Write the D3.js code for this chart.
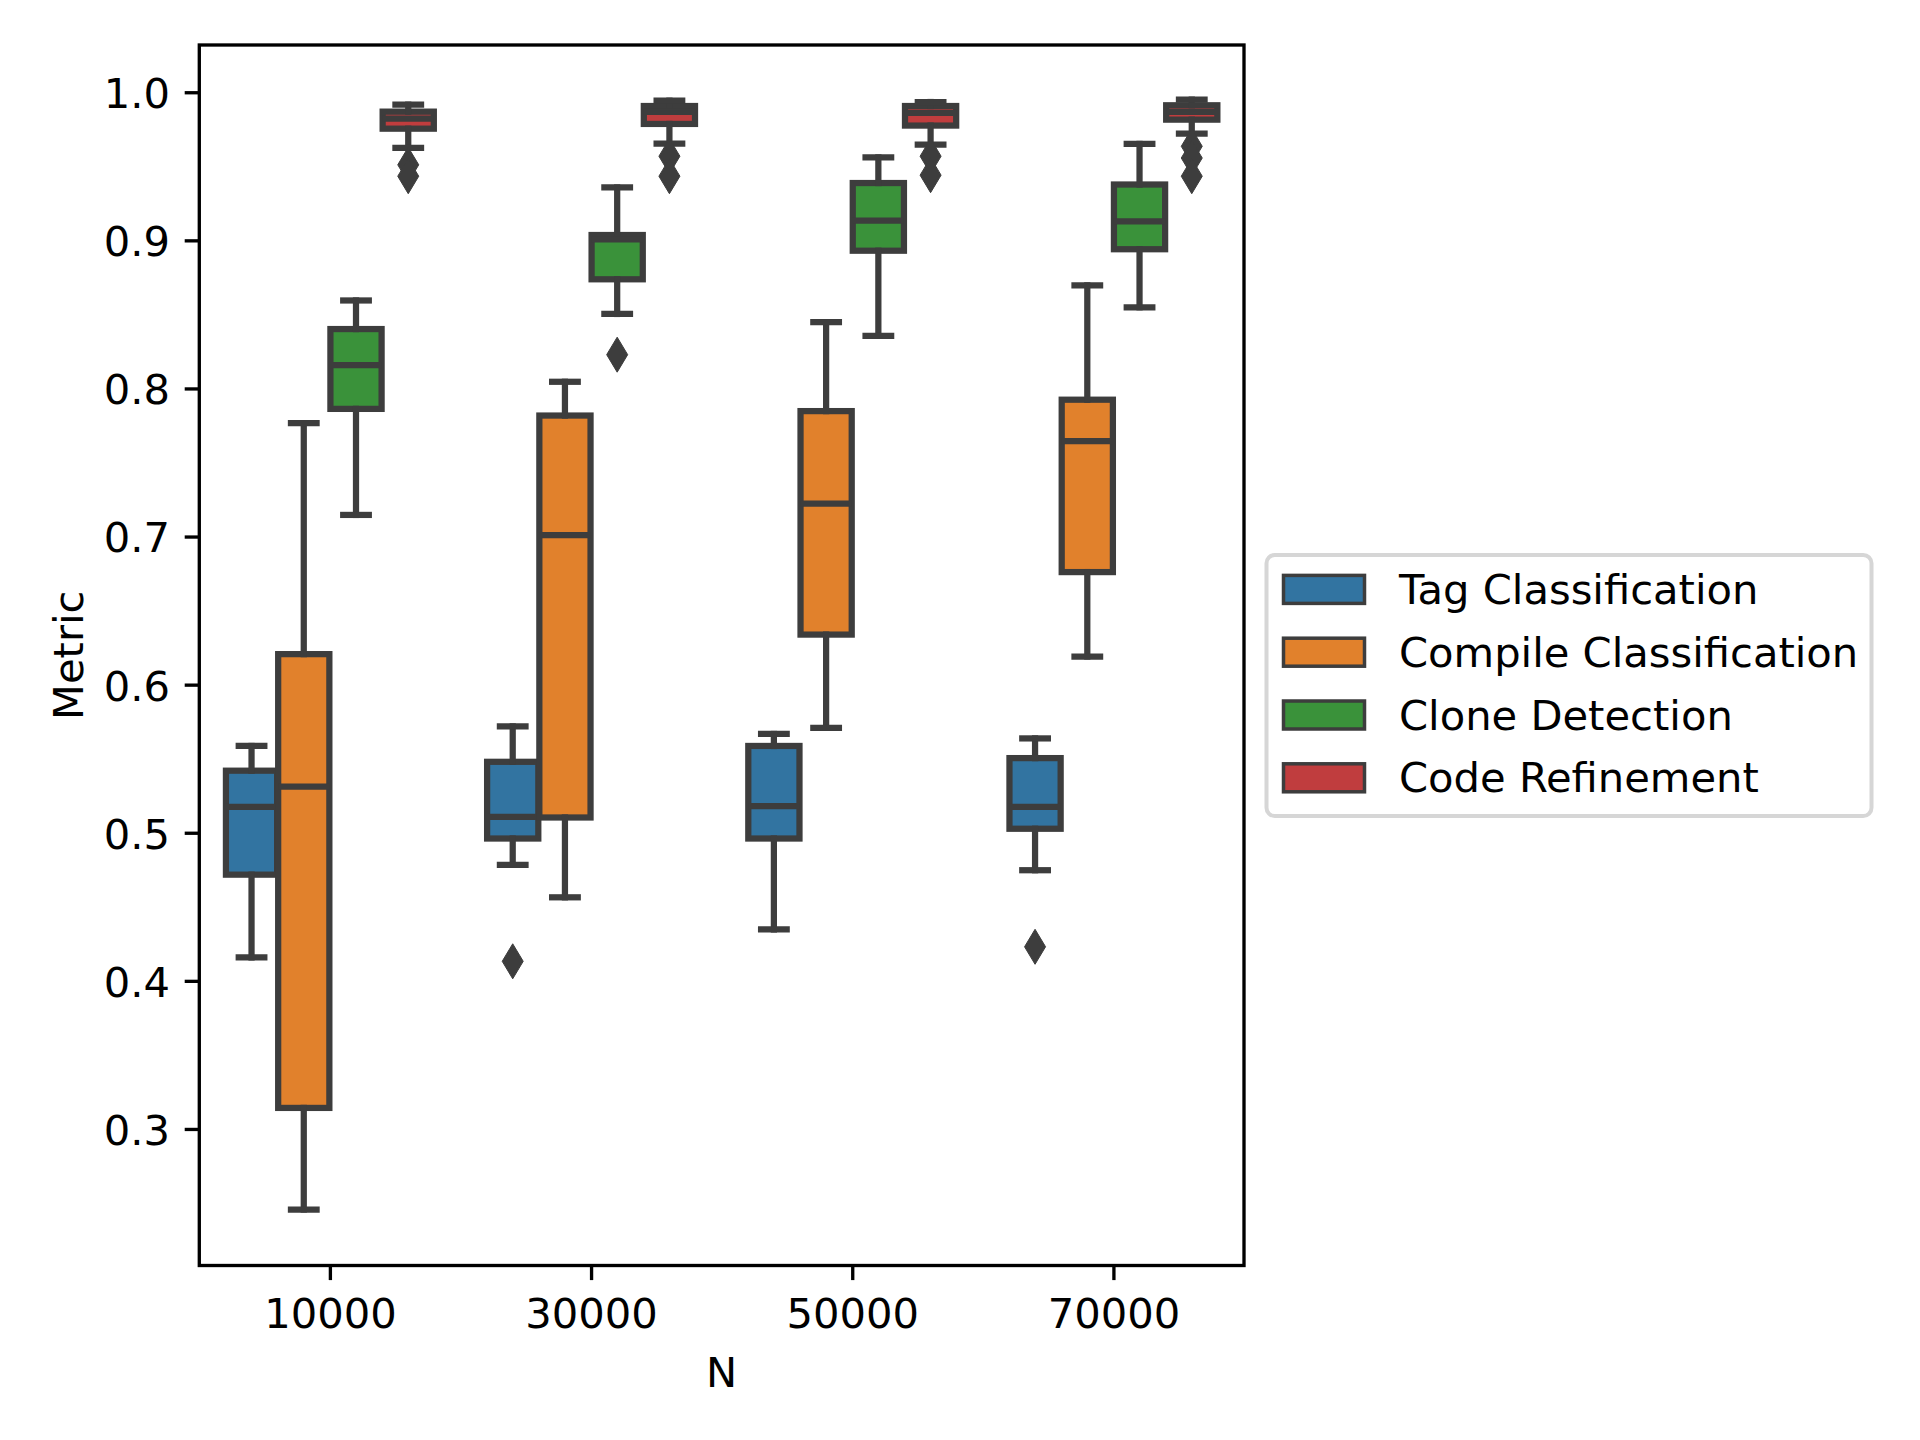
<!DOCTYPE html>
<html>
<head>
<meta charset="utf-8">
<script src="https://cdn.jsdelivr.net/npm/d3@7"></script>
<style>
  body { margin: 0; background: #fff; }
  svg { display: block; }
</style>
</head>
<body>
<svg id="chart" width="1920" height="1440"></svg>
<script>
const groups = ['10000', '30000', '50000', '70000']
const tasks = ['Tag Classification', 'Compile Classification', 'Clone Detection', 'Code Refinement']
const palette = ['#3274a1', '#e1812c', '#3a923a', '#c03d3e']
const yTicks = [0.3, 0.4, 0.5, 0.6, 0.7, 0.8, 0.9, 1.0]

// box stats, one row per task, one value per N group
const whiskerLow = [
  [0.4158, 0.4783, 0.4347, 0.4747],
  [0.2456, 0.4564, 0.5708, 0.6190],
  [0.7146, 0.8503, 0.8355, 0.8548],
  [0.9624, 0.9653, 0.9646, 0.9720]
]
const q1 = [
  [0.4717, 0.4961, 0.4961, 0.5027],
  [0.3142, 0.5103, 0.6338, 0.6760],
  [0.7862, 0.8737, 0.8930, 0.8940],
  [0.9754, 0.9786, 0.9775, 0.9815]
]
const median = [
  [0.5174, 0.5108, 0.5180, 0.5174],
  [0.5311, 0.7009, 0.7222, 0.7644],
  [0.8157, 0.9006, 0.9133, 0.9128],
  [0.9822, 0.9867, 0.9860, 0.9867]
]
const q3 = [
  [0.5419, 0.5479, 0.5586, 0.5504],
  [0.6206, 0.7817, 0.7847, 0.7924],
  [0.8401, 0.9036, 0.9387, 0.9377],
  [0.9869, 0.9907, 0.9907, 0.9912]
]
const whiskerHigh = [
  [0.5586, 0.5718, 0.5667, 0.5637],
  [0.7766, 0.8045, 0.8447, 0.8696],
  [0.8594, 0.9357, 0.9560, 0.9651],
  [0.9916, 0.9943, 0.9934, 0.9950]
]
// [task, group, value]
const fliers = [
  [0, 1, 0.4132], [0, 3, 0.4230],
  [2, 1, 0.8228],
  [3, 0, 0.9510], [3, 0, 0.9433],
  [3, 1, 0.9568], [3, 1, 0.9433],
  [3, 2, 0.9568], [3, 2, 0.9440],
  [3, 3, 0.9635], [3, 3, 0.9556], [3, 3, 0.9433]
]

const gray = '#3d3d3d'
const font = 'DejaVu Sans'
const fontSize = 41.67
const lw = 6.25
const axLeft = 199.3, axRight = 1244, axTop = 45, axBottom = 1265.5

let svg = d3.select('#chart')
svg.append('rect').attr('width', 1920).attr('height', 1440).attr('fill', '#fff')

let x = d3.scaleLinear().domain([-0.5, 3.5]).range([axLeft, axRight])
let y = d3.scaleLinear().domain([0.2078, 1.0319]).range([axBottom, axTop])

let nHue = tasks.length
let hueWidth = 0.8 / nHue
let boxWidth = hueWidth * 0.98
function center (task, group) {
  return group - 0.4 + hueWidth * (task + 0.5)
}

let boxes = []
tasks.forEach(function (t, ti) {
  groups.forEach(function (g, gi) {
    boxes.push({
      task: ti, group: gi,
      lo: whiskerLow[ti][gi], q1: q1[ti][gi], med: median[ti][gi],
      q3: q3[ti][gi], hi: whiskerHigh[ti][gi]
    })
  })
})
boxes.sort(function (a, b) { return a.group - b.group || a.task - b.task })

let plot = svg.append('g').attr('class', 'plot')

let svgBoxes = plot.selectAll('g.box')
  .data(boxes)
  .enter()
  .append('g')
    .attr('class', 'box')

svgBoxes.each(function (d) {
  let g = d3.select(this)
  let cx = x(center(d.task, d.group))
  let half = x(boxWidth / 2) - x(0)
  let capHalf = half / 2

  g.append('rect')
    .attr('x', cx - half)
    .attr('y', y(d.q3))
    .attr('width', half * 2)
    .attr('height', y(d.q1) - y(d.q3))
    .attr('fill', palette[d.task])
    .attr('stroke', gray)
    .attr('stroke-width', lw)

  let segs = [
    [cx, y(d.q1), cx, y(d.lo)],
    [cx, y(d.q3), cx, y(d.hi)],
    [cx - capHalf, y(d.lo), cx + capHalf, y(d.lo)],
    [cx - capHalf, y(d.hi), cx + capHalf, y(d.hi)],
    [cx - half, y(d.med), cx + half, y(d.med)]
  ]
  g.selectAll('line')
    .data(segs)
    .enter()
    .append('line')
      .attr('x1', function (s) { return s[0] })
      .attr('y1', function (s) { return s[1] })
      .attr('x2', function (s) { return s[2] })
      .attr('y2', function (s) { return s[3] })
      .attr('stroke', gray)
      .attr('stroke-width', lw)
      .attr('stroke-linecap', function (s, i) { return i === 4 ? 'butt' : 'square' })

  let pts = fliers.filter(function (f) { return f[0] === d.task && f[1] === d.group })
  g.selectAll('path.flier')
    .data(pts)
    .enter()
    .append('path')
      .attr('class', 'flier')
      .attr('d', function (f) {
        let fy = y(f[2])
        return 'M' + cx + ',' + (fy - 17.5) + 'L' + (cx + 10.5) + ',' + fy +
          'L' + cx + ',' + (fy + 17.5) + 'L' + (cx - 10.5) + ',' + fy + 'Z'
      })
      .attr('fill', gray)
      .attr('stroke', gray)
      .attr('stroke-width', 1)
})

// axes
let yAxis = svg.append('g')
  .attr('transform', 'translate(' + axLeft + ',0)')
  .call(d3.axisLeft(y).tickValues(yTicks).tickFormat(d3.format('.1f'))
    .tickSize(14.6).tickPadding(14.6).tickSizeOuter(0))
let xAxis = svg.append('g')
  .attr('transform', 'translate(0,' + axBottom + ')')
  .call(d3.axisBottom(x).tickValues(d3.range(groups.length))
    .tickFormat(function (i) { return groups[i] })
    .tickSize(14.6).tickPadding(14.6).tickSizeOuter(0))

;[yAxis, xAxis].forEach(function (a) {
  a.select('.domain').remove()
  a.selectAll('.tick line').attr('stroke', '#000').attr('stroke-width', 3.33)
  a.selectAll('.tick text')
    .attr('fill', '#000')
    .style('font-family', font)
    .style('font-size', fontSize + 'px')
})
yAxis.selectAll('.tick text').attr('dy', '0.37em')
xAxis.selectAll('.tick text').attr('dy', '0.79em')

svg.append('rect')
  .attr('x', axLeft)
  .attr('y', axTop)
  .attr('width', axRight - axLeft)
  .attr('height', axBottom - axTop)
  .attr('fill', 'none')
  .attr('stroke', '#000')
  .attr('stroke-width', 3.33)
  .attr('stroke-linecap', 'square')

svg.append('text')
  .attr('x', (axLeft + axRight) / 2)
  .attr('y', 1386.7)
  .attr('text-anchor', 'middle')
  .style('font-family', font)
  .style('font-size', fontSize + 'px')
  .text('N')

svg.append('text')
  .attr('transform', 'translate(83,' + (axTop + axBottom) / 2 + ') rotate(-90)')
  .attr('text-anchor', 'middle')
  .style('font-family', font)
  .style('font-size', fontSize + 'px')
  .text('Metric')

// legend
let legend = svg.append('g').attr('class', 'legend')
legend.append('rect')
  .attr('x', 1266.5)
  .attr('y', 555)
  .attr('width', 605)
  .attr('height', 261)
  .attr('rx', 8.3)
  .attr('fill', '#fff')
  .attr('fill-opacity', 0.8)
  .attr('stroke', '#d6d6d6')
  .attr('stroke-width', 4)

let items = legend.selectAll('g.item')
  .data(tasks)
  .enter()
  .append('g')
    .attr('class', 'item')
    .attr('transform', function (d, i) { return 'translate(0,' + (589.4 + i * 62.8) + ')' })

items.append('rect')
  .attr('x', 1283.5)
  .attr('y', -14)
  .attr('width', 81)
  .attr('height', 28)
  .attr('fill', function (d, i) { return palette[i] })
  .attr('stroke', gray)
  .attr('stroke-width', 3.5)

items.append('text')
  .attr('x', 1399)
  .attr('y', 14.6)
  .style('font-family', font)
  .style('font-size', fontSize + 'px')
  .text(function (d) { return d })
</script>
</body>
</html>
